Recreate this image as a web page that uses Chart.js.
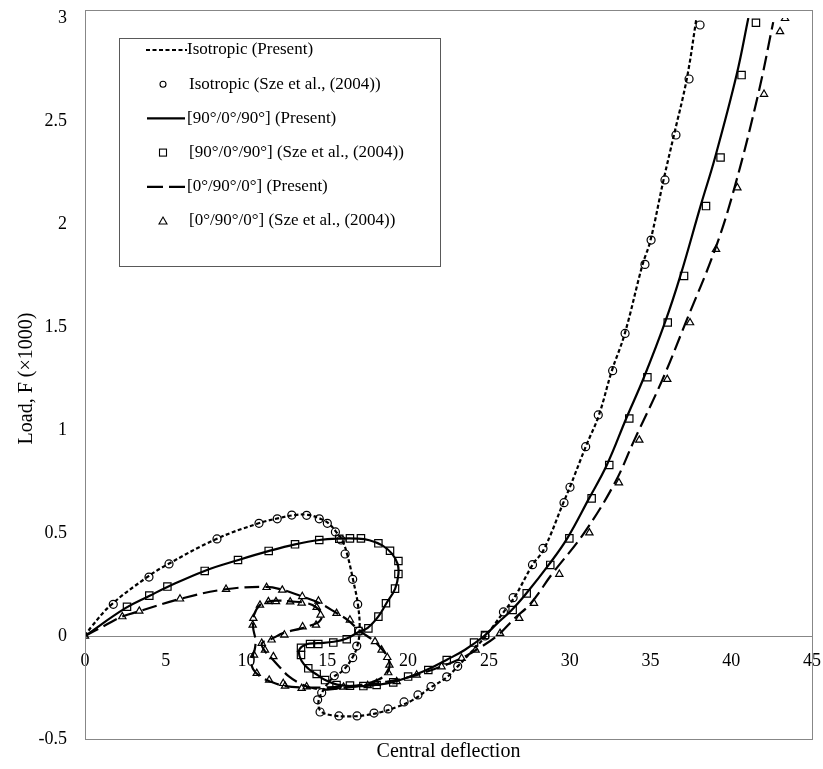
<!DOCTYPE html>
<html>
<head>
<meta charset="utf-8">
<script src="https://cdn.jsdelivr.net/npm/chart.js@4.4.1/dist/chart.umd.min.js"></script>
<style>
  html, body { margin: 0; padding: 0; background: #fff; }
  #wrap { width: 823px; height: 769px; }
</style>
</head>
<body>
<div id="wrap"><canvas id="chart"></canvas></div>
<script>
// Isotropic (Present) - dotted line
const isoLineX = [0, 0.4, 1.6, 3.8, 5.1, 8.1, 10.7, 12.0, 13.0, 13.8, 14.6, 15.1, 15.6, 15.95, 16.25, 16.6, 16.9, 17.0, 16.85, 16.55, 16.0, 15.3, 14.7, 14.45, 14.6, 15.3, 16.3, 17.3, 18.3, 19.3, 20.3, 21.4, 22.4, 23.1, 24.0, 24.8, 25.9, 26.6, 27.7, 28.4, 29.6, 30.0, 31.0, 31.8, 32.6, 33.4, 34.5, 35.0, 35.8, 36.45, 37.25, 37.85]
const isoLineY = [0, 0.045, 0.15, 0.283, 0.347, 0.47, 0.546, 0.572, 0.587, 0.588, 0.568, 0.545, 0.5, 0.46, 0.39, 0.27, 0.15, 0.03, -0.05, -0.105, -0.165, -0.205, -0.27, -0.32, -0.365, -0.385, -0.39, -0.385, -0.37, -0.345, -0.31, -0.25, -0.2, -0.145, -0.07, 0.0, 0.115, 0.19, 0.345, 0.42, 0.645, 0.72, 0.92, 1.07, 1.285, 1.465, 1.8, 1.92, 2.21, 2.43, 2.705, 3.0]
// Isotropic (Sze et al., 2004) - circles
const isoPtsX = [1.75, 3.96, 5.2, 8.17, 10.77, 11.9, 12.8, 13.72, 14.5, 15.0, 15.5, 15.85, 16.1, 16.57, 16.88, 16.98, 16.82, 16.57, 16.13, 15.43, 14.65, 14.4, 14.55, 15.72, 16.84, 17.89, 18.76, 19.75, 20.61, 21.42, 22.39, 23.07, 24.76, 25.9, 26.5, 27.7, 28.35, 29.65, 30.02, 30.99, 31.77, 32.66, 33.43, 34.66, 35.04, 35.9, 36.58, 37.39, 38.07]
const isoPtsY = [0.154, 0.286, 0.35, 0.471, 0.547, 0.569, 0.587, 0.586, 0.569, 0.547, 0.505, 0.466, 0.398, 0.275, 0.154, 0.024, -0.049, -0.105, -0.16, -0.193, -0.275, -0.31, -0.369, -0.388, -0.388, -0.374, -0.354, -0.32, -0.286, -0.246, -0.198, -0.147, 0.0, 0.117, 0.186, 0.346, 0.425, 0.647, 0.722, 0.919, 1.073, 1.288, 1.469, 1.804, 1.922, 2.214, 2.432, 2.704, 2.966]

// [90/0/90] (Present) - solid line
const crossLineX = [0, 2.5, 4.0, 5.1, 7.4, 9.5, 11.4, 13.0, 14.5, 15.8, 16.8, 17.6, 18.4, 19.0, 19.35, 19.4, 19.2, 18.65, 18.15, 17.5, 16.9, 16.2, 15.4, 14.4, 13.7, 13.25, 13.4, 13.85, 14.4, 14.9, 15.6, 16.4, 17.2, 18.0, 19.0, 20.0, 21.2, 22.4, 23.5, 24.7, 25.5, 26.4, 27.3, 28.7, 29.85, 31.2, 32.3, 33.5, 34.6, 35.9, 36.85, 38.1, 39.0, 40.33, 41.06]
const crossLineY = [0, 0.135, 0.195, 0.238, 0.316, 0.369, 0.413, 0.445, 0.466, 0.473, 0.473, 0.465, 0.44, 0.4, 0.35, 0.3, 0.23, 0.158, 0.094, 0.04, 0.018, -0.012, -0.028, -0.035, -0.04, -0.07, -0.12, -0.16, -0.19, -0.215, -0.236, -0.243, -0.243, -0.238, -0.225, -0.2, -0.163, -0.115, -0.068, 0.0, 0.06, 0.125, 0.205, 0.345, 0.474, 0.668, 0.83, 1.056, 1.256, 1.522, 1.748, 2.087, 2.323, 2.723, 3.0]
// [90/0/90] (Sze et al., 2004) - squares
const crossPtsX = [2.6, 3.98, 5.1, 7.41, 9.47, 11.37, 13.0, 14.5, 15.74, 16.4, 17.08, 18.16, 18.88, 19.4, 19.4, 19.19, 18.63, 18.16, 17.54, 16.92, 16.2, 15.37, 14.44, 13.93, 13.37, 13.37, 13.82, 14.34, 14.86, 15.57, 16.4, 17.23, 18.05, 19.08, 20.0, 21.25, 22.39, 24.08, 24.76, 26.47, 27.34, 28.8, 29.98, 31.36, 32.45, 33.69, 34.81, 36.07, 37.08, 38.44, 39.34, 40.64, 41.53]
const crossPtsY = [0.142, 0.196, 0.24, 0.316, 0.369, 0.413, 0.445, 0.466, 0.472, 0.474, 0.474, 0.45, 0.414, 0.364, 0.301, 0.23, 0.159, 0.094, 0.037, 0.024, -0.016, -0.032, -0.039, -0.039, -0.057, -0.092, -0.157, -0.184, -0.214, -0.238, -0.241, -0.243, -0.238, -0.225, -0.197, -0.165, -0.117, -0.032, 0.005, 0.126, 0.207, 0.345, 0.474, 0.668, 0.83, 1.056, 1.256, 1.522, 1.748, 2.087, 2.323, 2.723, 2.977]

// [0/90/0] (Present) - dashed line
const angleLineX = [0, 1.2, 2.3, 3.4, 5.9, 8.7, 11.2, 12.2, 13.4, 14.5, 15.5, 16.3, 17.0, 17.9, 18.4, 18.75, 18.85, 18.7, 18.2, 17.2, 16.0, 14.8, 13.5, 12.4, 11.5, 10.85, 10.4, 10.3, 10.5, 10.55, 10.4, 10.45, 10.8, 11.35, 11.9, 12.7, 13.7, 14.3, 14.65, 14.5, 14.1, 13.4, 12.3, 11.5, 10.95, 11.1, 11.55, 12.1, 12.6, 13.3, 14.2, 15.0, 16.0, 17.2, 18.4, 19.5, 20.5, 22.0, 23.3, 24.2, 25.5, 26.6, 27.6, 28.9, 30.9, 32.8, 34.0, 35.75, 37.18, 39.0, 40.2, 41.67, 42.6]
const angleLineY = [0, 0.05, 0.094, 0.121, 0.18, 0.227, 0.238, 0.225, 0.193, 0.16, 0.115, 0.075, 0.025, -0.025, -0.066, -0.105, -0.145, -0.18, -0.21, -0.235, -0.245, -0.25, -0.25, -0.243, -0.222, -0.197, -0.16, -0.115, -0.068, -0.02, 0.045, 0.1, 0.148, 0.167, 0.172, 0.168, 0.16, 0.14, 0.1, 0.07, 0.055, 0.037, 0.015, -0.016, -0.035, -0.07, -0.108, -0.155, -0.195, -0.23, -0.255, -0.26, -0.252, -0.24, -0.225, -0.21, -0.19, -0.15, -0.108, -0.068, 0.0, 0.086, 0.159, 0.3, 0.501, 0.744, 0.951, 1.246, 1.521, 1.877, 2.176, 2.63, 2.98]
// [0/90/0] (Sze et al., 2004) - triangles
const anglePtsX = [0, 2.31, 3.36, 5.88, 8.73, 11.24, 12.21, 13.45, 14.45, 15.57, 16.4, 17.95, 18.36, 18.71, 18.84, 18.77, 18.05, 13.41, 12.38, 11.4, 10.63, 10.46, 10.94, 10.38, 10.42, 10.83, 11.35, 11.82, 12.7, 13.41, 14.34, 14.58, 14.3, 13.47, 12.34, 11.55, 11.14, 11.66, 12.27, 13.72, 16.0, 17.5, 19.29, 20.53, 22.07, 23.31, 24.18, 25.69, 26.88, 27.79, 29.36, 31.22, 33.05, 34.31, 36.04, 37.45, 39.06, 40.38, 42.03, 43.02, 43.33]
const anglePtsY = [0, 0.094, 0.121, 0.18, 0.227, 0.236, 0.223, 0.192, 0.17, 0.11, 0.078, -0.027, -0.068, -0.104, -0.141, -0.178, -0.23, -0.254, -0.243, -0.214, -0.181, -0.092, -0.035, 0.053, 0.086, 0.15, 0.167, 0.167, 0.166, 0.16, 0.139, 0.102, 0.053, 0.045, 0.005, -0.019, -0.068, -0.1, -0.23, -0.246, -0.248, -0.24, -0.221, -0.189, -0.149, -0.108, -0.068, 0.013, 0.086, 0.159, 0.3, 0.501, 0.744, 0.951, 1.246, 1.521, 1.877, 2.176, 2.63, 2.934, 2.998]

const xTicks = [0, 5, 10, 15, 20, 25, 30, 35, 40, 45]
const yTicks = [-0.5, 0, 0.5, 1, 1.5, 2, 2.5, 3]
const legendLabels = [
  "Isotropic (Present)",
  "Isotropic (Sze et al., (2004))",
  "[90°/0°/90°] (Present)",
  "[90°/0°/90°] (Sze et al., (2004))",
  "[0°/90°/0°] (Present)",
  "[0°/90°/0°] (Sze et al., (2004))",
]

const FONT = "'Liberation Serif', 'Times New Roman', serif"
const pts = (xs, ys) => xs.map((x, i) => ({ x: x, y: ys[i] }))

const lineSet = (xs, ys, dash) => ({
  data: pts(xs, ys),
  showLine: true,
  borderColor: "#000",
  borderWidth: 2.2,
  borderDash: dash,
  pointRadius: 0,
  tension: 0.4,
})
const markSet = (xs, ys, style, r) => ({
  data: pts(xs, ys),
  showLine: false,
  pointStyle: style,
  pointRadius: r,
  pointBorderColor: "#000",
  pointBorderWidth: 1.2,
  pointBackgroundColor: "rgba(0,0,0,0)",
})

// plot frame + legend box
const framePlugin = {
  id: "frame",
  afterDraw(chart) {
    const { ctx, chartArea: a } = chart
    ctx.save()
    ctx.strokeStyle = "#878787"
    ctx.lineWidth = 1
    ctx.strokeRect(a.left + 0.5, a.top - 7.5, a.right - a.left, a.bottom - a.top + 8)

    // legend
    const bx = 119, by = 38, bw = 321, bh = 228
    ctx.fillStyle = "#fff"
    ctx.fillRect(bx, by, bw, bh)
    ctx.strokeStyle = "#595959"
    ctx.strokeRect(bx + 0.5, by + 0.5, bw, bh)
    ctx.font = "17px " + FONT
    ctx.textBaseline = "middle"
    ctx.fillStyle = "#000"
    ctx.strokeStyle = "#000"
    legendLabels.forEach((t, i) => {
      const y = 50 + i * 34.2
      ctx.fillText(t, i % 2 === 0 ? 187 : 189, y)
      ctx.lineWidth = 2.2
      if (i === 0) { ctx.setLineDash([4, 2.5]); line(ctx, 146, 187, y) }
      if (i === 2) { ctx.setLineDash([]); line(ctx, 147, 185, y) }
      if (i === 4) { ctx.setLineDash([16, 6]); line(ctx, 147, 186, y) }
      ctx.setLineDash([])
      ctx.lineWidth = 1.1
      if (i === 1) { ctx.beginPath(); ctx.arc(163, y, 3, 0, Math.PI * 2); ctx.stroke() }
      if (i === 3) { ctx.strokeRect(159.5, y - 3.5, 7, 7) }
      if (i === 5) {
        ctx.beginPath(); ctx.moveTo(163, y - 4); ctx.lineTo(167, y + 3); ctx.lineTo(159, y + 3); ctx.closePath(); ctx.stroke()
      }
    })
    ctx.restore()
  },
}
function line(ctx, x1, x2, y) {
  ctx.beginPath(); ctx.moveTo(x1, y); ctx.lineTo(x2, y); ctx.stroke()
}

new Chart(document.getElementById("chart"), {
  type: "scatter",
  data: {
    datasets: [
      markSet(isoPtsX, isoPtsY, "circle", 4),
      markSet(crossPtsX, crossPtsY, "rect", 5.2),
      markSet(anglePtsX, anglePtsY, "triangle", 4.2),
      lineSet(isoLineX, isoLineY, [4, 2.5]),
      lineSet(crossLineX, crossLineY, []),
      lineSet(angleLineX, angleLineY, [15, 6]),
    ],
  },
  options: {
    responsive: true,
    maintainAspectRatio: false,
    animation: false,
    layout: { padding: { top: 18, right: 11, bottom: 0, left: 0 } },
    plugins: { legend: { display: false }, tooltip: { enabled: false } },
    scales: {
      x: {
        type: "linear",
        position: { y: 0 },
        min: 0,
        max: 45,
        afterBuildTicks: (s) => { s.ticks = xTicks.map((v) => ({ value: v })) },
        grid: { display: false, drawTicks: false },
        border: { display: true, color: "#878787", width: 1 },
        ticks: { color: "#000", font: { family: FONT, size: 18 }, padding: 14, maxRotation: 0, callback: (v) => String(v) },
        afterFit: (s) => { s.paddingLeft = 0; s.paddingRight = 0 },
      },
      x2: {
        type: "linear",
        position: "bottom",
        min: 0,
        max: 45,
        grid: { display: false, drawTicks: false },
        border: { display: false },
        ticks: { display: false },
        title: { display: true, text: "Central deflection", color: "#000", font: { family: FONT, size: 20 }, padding: { top: 0, bottom: 5 } },
        afterFit: (s) => { s.height = 30; s.paddingLeft = 0; s.paddingRight = 0 },
      },
      y: {
        type: "linear",
        position: "left",
        min: -0.5,
        max: 3,
        afterBuildTicks: (s) => { s.ticks = yTicks.map((v) => ({ value: v })) },
        grid: { display: false, drawTicks: false },
        border: { display: false },
        ticks: { color: "#000", font: { family: FONT, size: 18 }, padding: 18, callback: (v) => String(v) },
        title: { display: true, text: "Load, F (×1000)", color: "#000", font: { family: FONT, size: 20 }, padding: { top: 15, bottom: 0 } },
        afterFit: (s) => { s.width = 85; s.paddingTop = 0; s.paddingBottom = 0 },
      },
    },
  },
  plugins: [framePlugin],
})
</script>
</body>
</html>
